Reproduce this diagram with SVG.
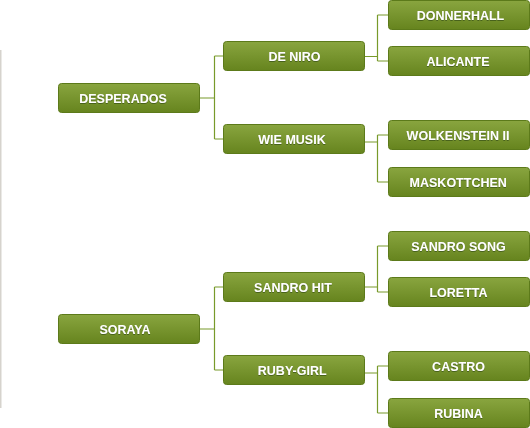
<svg xmlns="http://www.w3.org/2000/svg" width="530" height="428" viewBox="0 0 530 428">
<defs>
<linearGradient id="g" x1="0" y1="0" x2="0" y2="1">
<stop offset="0" stop-color="#89a53f"/>
<stop offset="1" stop-color="#66841e"/>
</linearGradient>
<filter id="sh" x="-10%" y="-30%" width="120%" height="160%">
<feDropShadow dx="0" dy="1" stdDeviation="0.4" flood-color="#2f4408" flood-opacity="0.6"/>
</filter>
</defs>
<style>
.n rect{fill:url(#g);stroke:#5c7a1a;stroke-width:1}
.n text{font-family:"Liberation Sans",Arial,sans-serif;font-weight:bold;font-size:12.5px;fill:#ffffff;text-anchor:middle;filter:url(#sh)}
.c path{fill:none;stroke:#789a2a;stroke-width:1.2}
</style>
<rect x="0" y="50" width="1.5" height="358" fill="#d6d3cd"/>
<g id="connectors" class="c">
<path d="M199.5,98 H214.5 M214.5,56 V139 M214.5,56 H223.5 M214.5,139 H223.5"/>
<path d="M364.5,56.5 H377.5 M377.5,15 V61 M377.5,15 H388.5 M377.5,61 H388.5"/>
<path d="M364.5,142 H377.5 M377.5,135 V182 M377.5,135 H388.5 M377.5,182 H388.5"/>
<path d="M199.5,329 H214.5 M214.5,287 V370 M214.5,287 H223.5 M214.5,370 H223.5"/>
<path d="M364.5,287 H377.5 M377.5,246 V292 M377.5,246 H388.5 M377.5,292 H388.5"/>
<path d="M364.5,373 H377.5 M377.5,366 V413 M377.5,366 H388.5 M377.5,413 H388.5"/>
</g>
<g id="desperados" class="n"><rect x="58.5" y="83.5" width="141" height="29" rx="3"/><text x="123" y="103.3">DESPERADOS</text></g>
<g id="deniro" class="n"><rect x="223.5" y="41.5" width="141" height="29" rx="3"/><text x="294.5" y="61.3">DE NIRO</text></g>
<g id="wiemusik" class="n"><rect x="223.5" y="124.5" width="141" height="29" rx="3"/><text x="292" y="144.3">WIE MUSIK</text></g>
<g id="donnerhall" class="n"><rect x="388.5" y="0.5" width="141" height="29" rx="3"/><text x="460.5" y="20.3">DONNERHALL</text></g>
<g id="alicante" class="n"><rect x="388.5" y="46.5" width="141" height="29" rx="3"/><text x="458" y="66.3">ALICANTE</text></g>
<g id="wolkenstein" class="n"><rect x="388.5" y="120.5" width="141" height="29" rx="3"/><text x="458" y="140.3">WOLKENSTEIN II</text></g>
<g id="maskottchen" class="n"><rect x="388.5" y="167.5" width="141" height="29" rx="3"/><text x="458.2" y="187.3">MASKOTTCHEN</text></g>
<g id="soraya" class="n"><rect x="58.5" y="314.5" width="141" height="29" rx="3"/><text x="125" y="334.3">SORAYA</text></g>
<g id="sandrohit" class="n"><rect x="223.5" y="272.5" width="141" height="29" rx="3"/><text x="293" y="292.3">SANDRO HIT</text></g>
<g id="rubygirl" class="n"><rect x="223.5" y="355.5" width="141" height="29" rx="3"/><text x="292.2" y="375.3">RUBY-GIRL</text></g>
<g id="sandrosong" class="n"><rect x="388.5" y="231.5" width="141" height="29" rx="3"/><text x="458.5" y="251.3">SANDRO SONG</text></g>
<g id="loretta" class="n"><rect x="388.5" y="277.5" width="141" height="29" rx="3"/><text x="458.5" y="297.3">LORETTA</text></g>
<g id="castro" class="n"><rect x="388.5" y="351.5" width="141" height="29" rx="3"/><text x="458.5" y="371.3">CASTRO</text></g>
<g id="rubina" class="n"><rect x="388.5" y="398.5" width="141" height="29" rx="3"/><text x="458.5" y="418.3">RUBINA</text></g>
</svg>
